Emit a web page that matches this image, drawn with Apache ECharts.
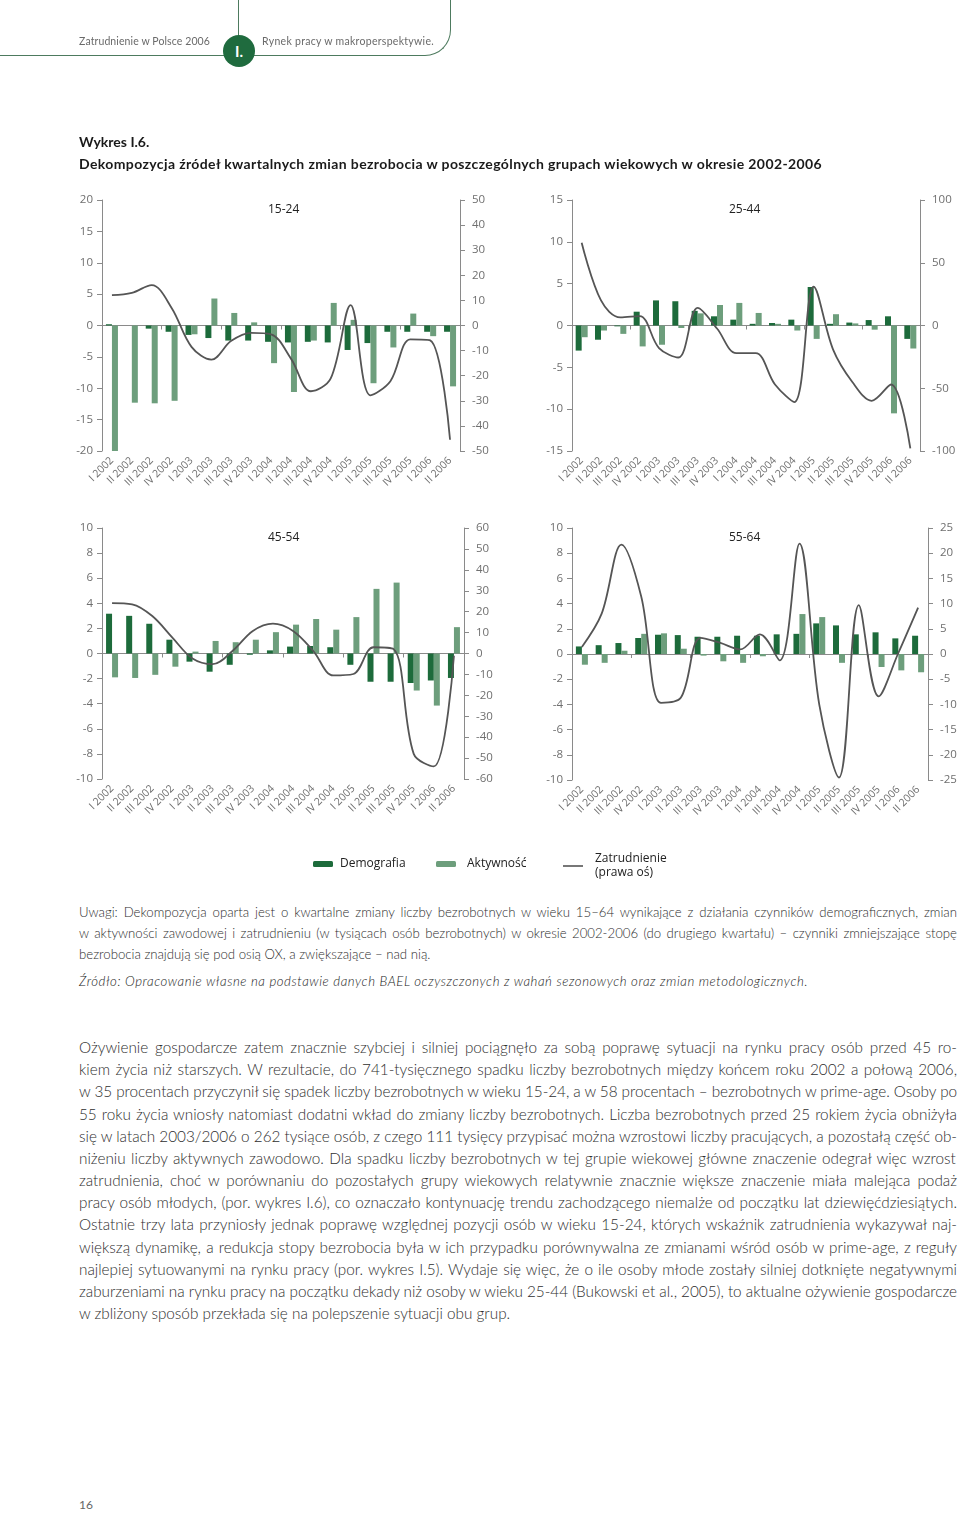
<!DOCTYPE html>
<html><head><meta charset="utf-8">
<script src="https://cdn.jsdelivr.net/npm/echarts/dist/echarts.min.js"></script>
<style>
html,body{margin:0;padding:0;background:#fff}
body{width:960px;height:1513px;position:relative;overflow:hidden;font-family:Lato,'Open Sans',sans-serif;color:#3a3a3a}
#chart{position:absolute;left:0;top:0;width:960px;height:900px;z-index:1}
.t{position:absolute;z-index:2;white-space:nowrap}
#frame{position:absolute;left:-2px;top:-30px;width:452px;height:85px;border-bottom:1.4px solid #4d7a5e;border-right:1.4px solid #4d7a5e;border-bottom-right-radius:26px;z-index:2}
#vline{position:absolute;left:238px;top:0;width:1.4px;height:40px;background:#4d7a5e;z-index:2}
#circ{position:absolute;left:223px;top:35px;width:32px;height:32px;border-radius:50%;background:#1f6b3e;color:#fff;font:bold 15px Lato,sans-serif;text-align:center;line-height:32px;z-index:3}
.hd{font-size:10.5px;color:#6a6a6a;top:35px}
.bt{font-weight:bold;font-size:14px;color:#1a1a1a}
.jl{position:absolute;left:79px;z-index:2;white-space:nowrap;font-weight:300}
</style></head>
<body>
<div id="frame"></div><div id="vline"></div><div id="circ">I.</div>
<div class="t hd" id="h1" style="left:79px">Zatrudnienie w Polsce 2006</div>
<div class="t hd" id="h2" style="left:262px">Rynek pracy w makroperspektywie.</div>
<div class="t bt" id="w1" style="left:79px;top:133px">Wykres I.6.</div>
<div class="t bt" id="w2" style="left:79px;top:155px">Dekompozycja źródeł kwartalnych zmian bezrobocia w poszczególnych grupach wiekowych w okresie 2002-2006</div>
<div id="chart"></div>
<div id="notes"></div>
<div id="body"></div>
<div class="t" style="left:79px;top:1497px;font-size:12px;color:#666">16</div>
<script>
// ---------- DATA ----------
const categories = ['I 2002','II 2002','III 2002','IV 2002','I 2003','II 2003','III 2003','IV 2003','I 2004','II 2004','III 2004','IV 2004','I 2005','II 2005','III 2005','IV 2005','I 2006','II 2006'];
const seriesNames = ['Demografia','Aktywność','Zatrudnienie\n(prawa oś)'];
const panelTitles = ['15-24','25-44','45-54','55-64'];

const demo1524 = [0.2, 0, -0.5, -1.0, -1.5, -2.0, -2.4, -2.4, -2.6, -2.7, -2.6, -2.7, -3.9, -2.8, -1.0, -1.0, -1.0, -1.0];
const akt1524  = [-20, -12.3, -12.4, -12.0, -1.4, 4.3, 2.0, 0.5, -6.0, -10.6, -2.4, 3.6, 0.9, -9.2, -3.5, 1.9, -1.7, -9.7];
const zatr1524 = [12.1, 13.0, 16.1, 7.0, -8.5, -13.6, -6.1, -2.9, -3.5, -13.2, -26.2, -21.1, 8.1, -27.8, -22.2, -5.5, -5.9, -45.5];

const demo2544 = [-3.0, -1.7, -0.1, 1.65, 3.0, 2.9, 1.75, 1.1, 0.7, 0.2, 0.3, 0.7, 4.6, 0.2, 0.35, 0.65, 1.1, -1.6];
const akt2544  = [-1.4, -0.6, -1.0, -2.5, -2.3, -0.3, 1.45, 2.45, 2.7, 1.5, 0.2, -0.6, -1.6, 1.35, 0.25, -0.5, -10.5, -2.75];
const zatr2544 = [66, 20, 6.5, 7.5, -18, -25.5, 14, -2.4, -22, -22, -47, -61, 31, -19, -45, -60, -47, -98];

const demo4554 = [3.17, 3.0, 2.37, 1.1, -0.65, -1.45, -0.9, -0.1, 0.25, 0.55, 0.6, 0.5, -0.9, -2.25, -2.25, -2.35, -2.15, -1.95];
const akt4554  = [-1.9, -1.95, -1.7, -1.05, 0.15, 1.0, 0.9, 1.1, 1.7, 2.3, 2.75, 1.9, 2.9, 5.15, 5.65, -2.95, -4.15, 2.1];
const zatr4554 = [24.1, 23.5, 17.9, 7.6, -2.4, -5.1, 1.3, 10.8, 14.3, 10.8, 1.3, -10.5, -9.8, 3.0, 2.1, -48, -54, -1.1];

const demo5564 = [0.6, 0.7, 0.87, 1.27, 1.53, 1.5, 1.37, 1.37, 1.45, 1.45, 1.56, 1.6, 2.43, 2.27, 1.56, 1.72, 1.24, 1.45];
const akt5564  = [-0.85, -0.7, 0.26, 1.6, 1.64, 0.42, -0.13, -0.58, -0.7, -0.18, 0, 3.17, 2.93, -0.7, -0.05, -1.03, -1.3, -1.45];
const zatr5564 = [1.4, 8.0, 21.7, 11.4, -9.7, -8.7, 3.2, 2.2, 0.9, 3.9, -1.25, 21.9, -10, -24.5, 9.7, -8.4, 0.2, 9.2];

const leftTicks  = [[-20,20,5],[-15,15,5],[-10,10,2],[-10,10,2]];
const rightTicks = [[-50,50,10],[-100,100,50],[-60,60,10],[-25,25,5]];

const noteLines = [
 'Uwagi: Dekompozycja oparta jest o kwartalne zmiany liczby bezrobotnych w wieku 15–64 wynikające z działania czynników demograficznych, zmian',
 'w aktywności zawodowej i zatrudnieniu (w tysiącach osób bezrobotnych) w okresie 2002-2006 (do drugiego kwartału) – czynniki zmniejszające stopę',
 'bezrobocia znajdują się pod osią OX, a zwiększające – nad nią.'
];
const sourceLine = 'Źródło: Opracowanie własne na podstawie danych BAEL oczyszczonych z wahań sezonowych oraz zmian metodologicznych.';
const bodyLines = [
 'Ożywienie gospodarcze zatem znacznie szybciej i silniej pociągnęło za sobą poprawę sytuacji na rynku pracy osób przed 45 ro-',
 'kiem życia niż starszych. W rezultacie, do 741-tysięcznego spadku liczby bezrobotnych między końcem roku 2002 a połową 2006,',
 'w 35 procentach przyczynił się spadek liczby bezrobotnych w wieku 15-24, a w 58 procentach – bezrobotnych w prime-age. Osoby po',
 '55 roku życia wniosły natomiast dodatni wkład do zmiany liczby bezrobotnych. Liczba bezrobotnych przed 25 rokiem życia obniżyła',
 'się w latach 2003/2006 o 262 tysiące osób, z czego 111 tysięcy przypisać można wzrostowi liczby pracujących, a pozostałą część ob-',
 'niżeniu liczby aktywnych zawodowo. Dla  spadku liczby bezrobotnych w tej grupie wiekowej główne znaczenie odegrał więc wzrost',
 'zatrudnienia, choć w porównaniu do pozostałych grupy wiekowych relatywnie znacznie większe znaczenie miała malejąca podaż',
 'pracy osób młodych, (por. wykres I.6), co oznaczało kontynuację trendu zachodzącego niemalże od początku lat dziewięćdziesiątych.',
 'Ostatnie trzy lata przyniosły jednak poprawę względnej pozycji osób w wieku 15-24, których wskaźnik zatrudnienia wykazywał naj-',
 'większą dynamikę, a redukcja stopy bezrobocia była w ich przypadku porównywalna ze zmianami wśród osób w prime-age, z reguły',
 'najlepiej sytuowanymi na rynku pracy (por. wykres I.5). Wydaje się więc, że o ile osoby młode zostały silniej dotknięte negatywnymi',
 'zaburzeniami na rynku pracy na początku dekady niż osoby w wieku 25-44 (Bukowski et al., 2005), to aktualne ożywienie gospodarcze',
 'w zbliżony sposób przekłada się na polepszenie sytuacji obu grup.'
];

// ---------- TEXT LAYOUT ----------
function fitWidth(el, target){
  const w = el.getBoundingClientRect().width;
  const n = el.textContent.length;
  el.style.letterSpacing = ((target - w) / n) + 'px';
}
function justLine(parent, txt, top, size, style, justify){
  const d = document.createElement('div');
  d.className = 'jl';
  d.style.top = top + 'px';
  d.style.fontSize = size + 'px';
  if (style) d.setAttribute('style', d.getAttribute('style') + ';' + style);
  d.textContent = txt;
  parent.appendChild(d);
  if (justify){
    const w = d.getBoundingClientRect().width;
    const spaces = (txt.match(/ /g) || []).length;
    let extra = 878 - w;
    if (extra < 0){ d.style.letterSpacing = (extra / txt.length) + 'px'; }
    else d.style.wordSpacing = (extra / spaces) + 'px';
  }
  return d;
}
const notes = document.getElementById('notes');
noteLines.forEach((l,i)=> justLine(notes, l, 904 + i*21, 13.2, 'color:#2e2e2e', i < 2));
const src = justLine(notes, sourceLine, 973, 13.2, 'color:#222;font-style:italic', false);
fitWidth(src, 729);
const body = document.getElementById('body');
bodyLines.forEach((l,i)=> justLine(body, l, 1038 + i*22.17, 15.3, 'color:#2e2e2e', i < bodyLines.length-1));
fitWidth(document.getElementById('h1'), 131);
fitWidth(document.getElementById('h2'), 172);
fitWidth(document.getElementById('w2'), 743);

// ---------- CHART ----------
const COL_DEMO = '#1d6b3b', COL_AKT = '#6d9e7c', COL_LINE = '#555555', AX = '#8a8a8a';
const panels = [
  {demo:demo1524, akt:akt1524, zatr:zatr1524, grid:{left:102, top:200, width:358, height:251}, tx:268, ty:204},
  {demo:demo2544, akt:akt2544, zatr:zatr2544, grid:{left:572, top:200, width:348, height:251}, tx:729, ty:204},
  {demo:demo4554, akt:akt4554, zatr:zatr4554, grid:{left:102, top:528, width:362, height:251}, tx:268, ty:532},
  {demo:demo5564, akt:akt5564, zatr:zatr5564, grid:{left:572, top:528, width:356, height:252}, tx:729, ty:532}
];
const grids=[], xAxes=[], yAxes=[], series=[], titles=[];
const lblFont = {fontFamily:"'Open Sans',sans-serif", color:'#6f6f6f'};
panels.forEach((p,i)=>{
  grids.push(p.grid);
  titles.push({text:panelTitles[i], left:p.tx, top:p.ty, padding:0,
    textStyle:{fontSize:12, fontWeight:'normal', color:'#222', fontFamily:"'Open Sans',sans-serif"}});
  xAxes.push({type:'category', gridIndex:i, data:categories, position:'bottom',
    axisLine:{onZero:true, lineStyle:{color:AX, width:1}},
    axisTick:{show:true, length:4, lineStyle:{color:AX}}, axisLabel:{show:false}, splitLine:{show:false}});
  xAxes.push({type:'category', gridIndex:i, data:categories, position:'bottom',
    axisLine:{show:false, onZero:false}, axisTick:{show:false},
    axisLabel:Object.assign({interval:0, rotate:45, fontSize:10.5, margin:8}, lblFont), splitLine:{show:false}});
  const L = leftTicks[i], R = rightTicks[i];
  yAxes.push({type:'value', gridIndex:i, position:'left', min:L[0], max:L[1], interval:L[2],
    axisLine:{show:true, lineStyle:{color:AX}}, axisTick:{show:true, length:5, lineStyle:{color:AX}},
    axisLabel:Object.assign({fontSize:11.5, margin:9}, lblFont), splitLine:{show:false}});
  yAxes.push({type:'value', gridIndex:i, position:'right', min:R[0], max:R[1], interval:R[2],
    axisLine:{show:true, lineStyle:{color:AX}}, axisTick:{show:true, length:5, lineStyle:{color:AX}},
    axisLabel:Object.assign({fontSize:11.5, margin:12}, lblFont), splitLine:{show:false}});
  series.push({name:seriesNames[0], type:'bar', xAxisIndex:2*i, yAxisIndex:2*i, data:p.demo,
    barWidth:6, barGap:'0%', itemStyle:{color:COL_DEMO}, z:2});
  series.push({name:seriesNames[1], type:'bar', xAxisIndex:2*i, yAxisIndex:2*i, data:p.akt,
    barWidth:6, barGap:'0%', itemStyle:{color:COL_AKT}, z:2});
  series.push({name:seriesNames[2], type:'line', xAxisIndex:2*i, yAxisIndex:2*i+1, data:p.zatr,
    smooth:0.35, symbol:'none', lineStyle:{color:COL_LINE, width:1.8}, itemStyle:{color:COL_LINE}, z:5});
});
const legTxt = {fontSize:12, color:'#222', fontFamily:"'Open Sans',sans-serif", lineHeight:14};
const chart = echarts.init(document.getElementById('chart'), null, {renderer:'canvas'});
chart.setOption({
  animation:false,
  title:titles,
  grid:grids, xAxis:xAxes, yAxis:yAxes, series:series,
  legend:[
    {left:313, top:857, padding:0, itemWidth:20, itemHeight:6, data:[seriesNames[0]], textStyle:Object.assign({padding:[0,0,0,2]}, legTxt)},
    {left:436, top:857, padding:0, itemWidth:20, itemHeight:6, data:[seriesNames[1]], textStyle:Object.assign({padding:[0,0,0,6]}, legTxt)},
    {left:563, top:852, padding:0, itemWidth:20, itemHeight:6,
      data:[{name:seriesNames[2], icon:'path://M0,0H20V1.6H0Z'}], textStyle:Object.assign({padding:[0,0,0,7]}, legTxt)}
  ]
});
</script>
</body></html>
